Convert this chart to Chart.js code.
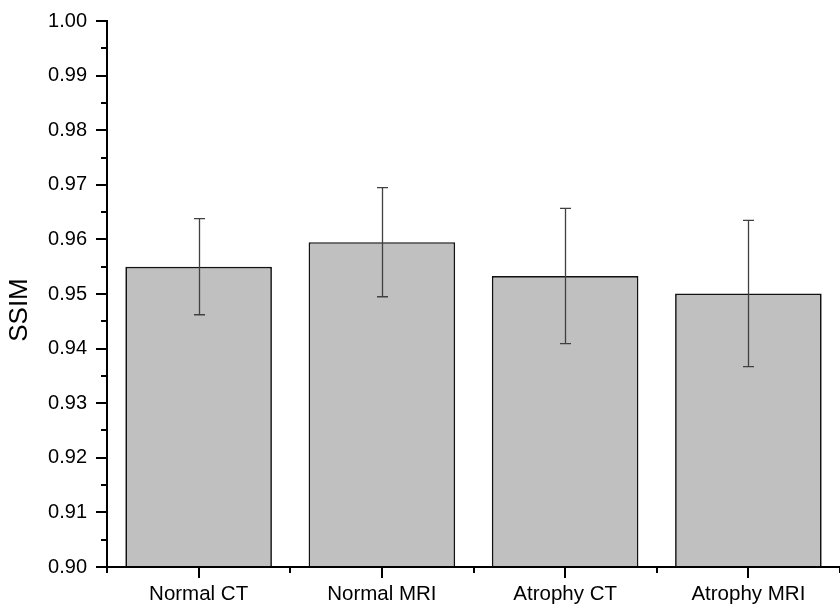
<!DOCTYPE html>
<html>
<head>
<meta charset="utf-8">
<script src="https://cdn.jsdelivr.net/npm/chart.js@4.4.1/dist/chart.umd.min.js"></script>
<style>
  html, body { margin: 0; padding: 0; background: #ffffff; }
  #wrap { width: 840px; height: 609px; position: relative; }
</style>
</head>
<body>
<div id="wrap"><canvas id="chart"></canvas></div>
<script>
// SSIM per image group: mean and standard deviation
const categories = ['Normal CT', 'Normal MRI', 'Atrophy CT', 'Atrophy MRI'];
const ssimMean = [0.9550, 0.9595, 0.9533, 0.9501];
const ssimSd = [0.0088, 0.0100, 0.0124, 0.0134];
const yTickValues = [0.90, 0.91, 0.92, 0.93, 0.94, 0.95, 0.96, 0.97, 0.98, 0.99, 1.00];

const FONT = "'Liberation Sans', Arial, sans-serif";

// Error bars (mean ± SD) drawn over each bar
const errorBars = {
  id: 'errorBars',
  afterDatasetsDraw(chart) {
    const ctx = chart.ctx;
    const y = chart.scales.y;
    const meta = chart.getDatasetMeta(0);
    ctx.save();
    ctx.strokeStyle = '#404040';
    ctx.lineWidth = 1.3;
    meta.data.forEach((bar, i) => {
      const x = Math.round(bar.x) + 0.5;
      const top = y.getPixelForValue(ssimMean[i] + ssimSd[i]);
      const bot = y.getPixelForValue(ssimMean[i] - ssimSd[i]);
      ctx.beginPath();
      ctx.moveTo(x, top); ctx.lineTo(x, bot);
      ctx.moveTo(x - 5.5, top); ctx.lineTo(x + 5.5, top);
      ctx.moveTo(x - 5.5, bot); ctx.lineTo(x + 5.5, bot);
      ctx.stroke();
    });
    ctx.restore();
  }
};

// Axis lines with major/minor tick marks and the rotated y title
const axesFrame = {
  id: 'axesFrame',
  afterDraw(chart) {
    const ctx = chart.ctx;
    const a = chart.chartArea;
    const y = chart.scales.y;
    const x = chart.scales.x;
    ctx.save();
    ctx.strokeStyle = '#000';
    ctx.lineWidth = 2;
    ctx.lineCap = 'butt';
    ctx.beginPath();
    // axis lines
    ctx.moveTo(a.left, a.top - 1); ctx.lineTo(a.left, a.bottom + 1);
    ctx.moveTo(a.left - 1, a.bottom); ctx.lineTo(a.right, a.bottom);
    // y ticks: major at each label, minor half-way between
    yTickValues.forEach((v, i) => {
      const py = Math.round(y.getPixelForValue(v));
      ctx.moveTo(a.left - 11, py); ctx.lineTo(a.left, py);
      if (i < yTickValues.length - 1) {
        const pm = Math.round(y.getPixelForValue(v + 0.005));
        ctx.moveTo(a.left - 6, pm); ctx.lineTo(a.left, pm);
      }
    });
    // x ticks: major at category centres, minor at boundaries
    const n = categories.length;
    const step = (a.right - a.left) / n;
    for (let i = 0; i <= n; i++) {
      const pb = Math.round(a.left + i * step);
      ctx.moveTo(pb, a.bottom); ctx.lineTo(pb, a.bottom + 6);
    }
    categories.forEach((c, i) => {
      const pc = Math.round(x.getPixelForValue(i));
      ctx.moveTo(pc, a.bottom); ctx.lineTo(pc, a.bottom + 11);
    });
    ctx.stroke();
    // y title
    ctx.fillStyle = '#000';
    ctx.font = '26px ' + FONT;
    ctx.textAlign = 'center';
    ctx.textBaseline = 'middle';
    ctx.translate(20, 310);
    ctx.rotate(-Math.PI / 2);
    ctx.fillText('SSIM', 0, 0);
    ctx.restore();
  }
};

new Chart(document.getElementById('chart'), {
  type: 'bar',
  data: {
    labels: categories,
    datasets: [{
      data: ssimMean,
      backgroundColor: '#c0c0c0',
      borderColor: '#111111',
      borderWidth: 1.7,
      borderSkipped: false,
      categoryPercentage: 0.8,
      barPercentage: 1.0
    }]
  },
  options: {
    responsive: true,
    maintainAspectRatio: false,
    animation: false,
    layout: { padding: { top: 21, right: 0, left: 0, bottom: 0 } },
    plugins: { legend: { display: false }, tooltip: { enabled: false } },
    scales: {
      x: {
        grid: { display: false, drawTicks: false },
        border: { display: false },
        ticks: { color: '#000', font: { family: FONT, size: 20.5 }, padding: 15, maxRotation: 0 },
        afterFit(s) { s.height = 42; s.paddingLeft = 0; s.paddingRight = 0; }
      },
      y: {
        min: 0.90,
        max: 1.00,
        grid: { display: false, drawTicks: false },
        border: { display: false },
        ticks: {
          stepSize: 0.01,
          color: '#000',
          font: { family: FONT, size: 20 },
          padding: 20,
          callback: (v) => Number(v).toFixed(2)
        },
        afterFit(s) { s.width = 107; s.paddingTop = 0; s.paddingBottom = 0; }
      }
    }
  },
  plugins: [errorBars, axesFrame]
});
</script>
</body>
</html>
